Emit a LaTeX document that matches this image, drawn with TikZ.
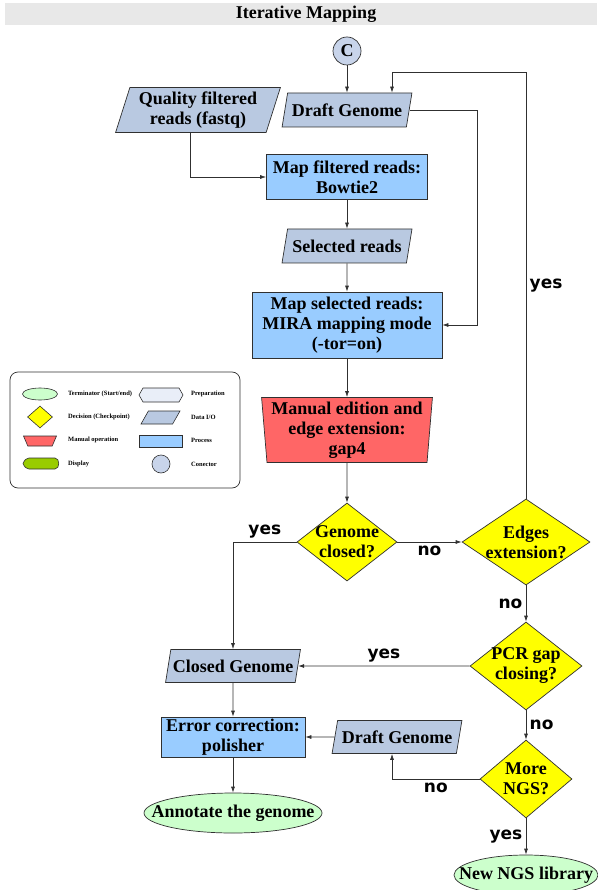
\documentclass[tikz,border=0pt]{standalone}
\usepackage{fontspec}
\setmainfont{Liberation Serif}
\newfontfamily\labfont{DejaVu Sans}
\usepackage{tikz}
\usetikzlibrary{arrows.meta,positioning,shapes.geometric}
\definecolor{titlebar}{HTML}{E8E8E8}
\definecolor{dataio}{HTML}{B9C9E1}
\definecolor{process}{HTML}{99CCFF}
\definecolor{manual}{HTML}{FF6666}
\definecolor{decide}{HTML}{FFFF00}
\definecolor{term}{HTML}{CCFFCC}
\definecolor{conn}{HTML}{C8D4EA}
\definecolor{displ}{HTML}{99CC00}
\definecolor{prep}{HTML}{E9EEF8}
\definecolor{edge}{HTML}{303030}

\begin{document}
\begin{tikzpicture}[x=1pt, y=-1pt,
  box/.style={draw=edge, line width=0.7pt, font=\bfseries\fontsize{18}{20}\selectfont, align=center},
  iobox/.style={box, fill=dataio, trapezium, trapezium left angle=73, trapezium right angle=107,
                trapezium stretches=true, inner xsep=0pt, inner ysep=2pt},
  procbox/.style={box, fill=process, rectangle, inner xsep=3pt, inner ysep=0pt},
  manbox/.style={box, fill=manual, trapezium, trapezium left angle=95, trapezium right angle=95,
                 trapezium stretches=true, inner xsep=0pt, inner ysep=1pt},
  decbox/.style={box, fill=decide, diamond, inner xsep=-30pt, inner ysep=-10pt},
  termbox/.style={box, fill=term, ellipse, inner xsep=-25pt, inner ysep=0pt},
  connbox/.style={box, fill=conn, circle, inner sep=0pt, minimum size=28pt},
  arr/.style={draw=edge, line width=0.7pt, -{Latex[length=6pt,width=4pt]}},
  lab/.style={font=\labfont\bfseries\fontsize{17}{20}\selectfont},
  leg/.style={font=\bfseries\fontsize{6.5}{8}\selectfont, anchor=west, inner sep=0pt},
  legshape/.style={draw=edge, line width=0.6pt, inner sep=0.5pt}]
  \useasboundingbox (0,0) rectangle (597,890);

  \fill[titlebar] (5,3) rectangle (597,25);
  \node[font=\bfseries\fontsize{18}{20}\selectfont] (title) at (306,14) {Iterative Mapping};

  \node[connbox] (c) at (347,51) {C};
  \node[iobox, minimum width=165pt, minimum height=45pt] (qf) at (198,110) {Quality filtered\\reads (fastq)};
  \node[iobox, minimum width=130pt, minimum height=34pt] (dg1) at (347,110) {Draft Genome};
  \node[procbox, minimum width=161pt, minimum height=45pt] (bt) at (347,177) {Map filtered reads:\\Bowtie2};
  \node[iobox, minimum width=130pt, minimum height=34pt] (sr) at (347,246) {Selected reads};
  \node[procbox, minimum width=190pt, minimum height=66pt] (mira) at (347,325) {Map selected reads:\\MIRA mapping mode\\(-tor=on)};
  \node[manbox, minimum width=171pt, minimum height=65pt] (man) at (347,430) {Manual edition and\\edge extension:\\gap4};
  \node[decbox, minimum width=100pt, minimum height=78pt] (gc) at (347,542) {Genome\\closed?};
  \node[decbox, minimum width=128pt, minimum height=86pt] (ee) at (526,542) {Edges\\extension?};
  \node[decbox, minimum width=112pt, minimum height=88pt] (pcr) at (526,666) {PCR gap\\closing?};
  \node[decbox, minimum width=92pt, minimum height=78pt] (mng) at (526,779) {More\\NGS?};
  \node[iobox, minimum width=135pt, minimum height=33pt] (cg) at (233,666) {Closed Genome};
  \node[procbox, minimum width=144pt, minimum height=40pt] (ec) at (233,737) {Error correction:\\polisher};
  \node[iobox, minimum width=130pt, minimum height=33pt] (dg2) at (397,737) {Draft Genome};
  \node[termbox, minimum width=178pt, minimum height=40pt] (ann) at (233,813) {Annotate the genome};
  \node[termbox, minimum width=144pt, minimum height=40pt] (nngs) at (526,875) {New NGS library};

  \coordinate (looptop) at (392,72);
  \coordinate (mirain) at (477,325);
  \draw[arr] (c) -- (dg1);
  \draw[arr] (ee.north) -- node[lab, right] {yes} (ee.north |- looptop) -- (looptop) -- (looptop |- dg1.north);
  \draw[arr] (dg1.east) -| (mirain) -- (mira.east);
  \draw[arr] ([xshift=-8pt]qf.south) |- (bt.west);
  \draw[arr] (bt) -- (sr);
  \draw[arr] (sr) -- (mira);
  \draw[arr] (mira) -- (man);
  \draw[arr] (man) -- (gc);
  \draw[arr] (gc) -- node[lab, below] {no} (ee);
  \draw[arr] (gc) -| node[lab, pos=0.25, above] {yes} (cg);
  \draw[arr] (ee) -- node[lab, left] {no} (pcr);
  \draw[arr] (pcr) -- node[lab, above] {yes} (cg);
  \draw[arr] (pcr) -- node[lab, right] {no} (mng);
  \draw[arr] (mng) -| node[lab, pos=0.25, below] {no} ([xshift=-5pt]dg2.south);
  \draw[arr] (mng) -- node[lab, left] {yes} (nngs);
  \draw[arr] (cg) -- (ec);
  \draw[arr] (ec) -- (ann);
  \draw[arr] (dg2) -- (ec);

  \draw[edge, line width=0.7pt, rounded corners=8pt] (10,372) rectangle (240,488);
  \node[legshape, fill=term, ellipse, minimum width=35pt, minimum height=12pt] (lgterm) at (40,394) {};
  \node[legshape, fill=decide, diamond, minimum width=25pt, minimum height=22pt] (lgdec) at (40,417) {};
  \node[legshape, fill=manual, trapezium, trapezium left angle=100, trapezium right angle=100,
        trapezium stretches=true, minimum width=33pt, minimum height=10pt] (lgman) at (40,441) {};
  \draw[legshape, fill=displ] (23,463.5) .. controls (25,459.5) .. (29,458) -- (55,458)
    .. controls (60,458) and (60,469) .. (55,469) -- (29,469) .. controls (25,467.5) .. (23,463.5) -- cycle;
  \draw[legshape, fill=prep] (139,395) -- (143,388) -- (179,388) -- (183,395) -- (179,402) -- (143,402) -- cycle;
  \node[legshape, fill=dataio, trapezium, trapezium left angle=73, trapezium right angle=107,
        trapezium stretches=true, minimum width=39pt, minimum height=13pt] (lgio) at (160.5,417.5) {};
  \node[legshape, fill=process, rectangle, minimum width=43pt, minimum height=12pt] (lgproc) at (160.5,441) {};
  \node[legshape, fill=conn, circle, minimum size=18pt] (lgconn) at (161,464) {};
  \foreach \x/\y/\txt in {68/394/{Terminator (Start/end)}, 68/417/{Decision (Checkpoint)},
      68/440/{Manual operation}, 68/464/{Display}, 191/394/{Preparation}, 191/417/{Data I/O},
      191/440/{Process}, 191/464/{Conector}}
    \node[leg] at (\x,\y) {\txt};
\end{tikzpicture}
\end{document}
